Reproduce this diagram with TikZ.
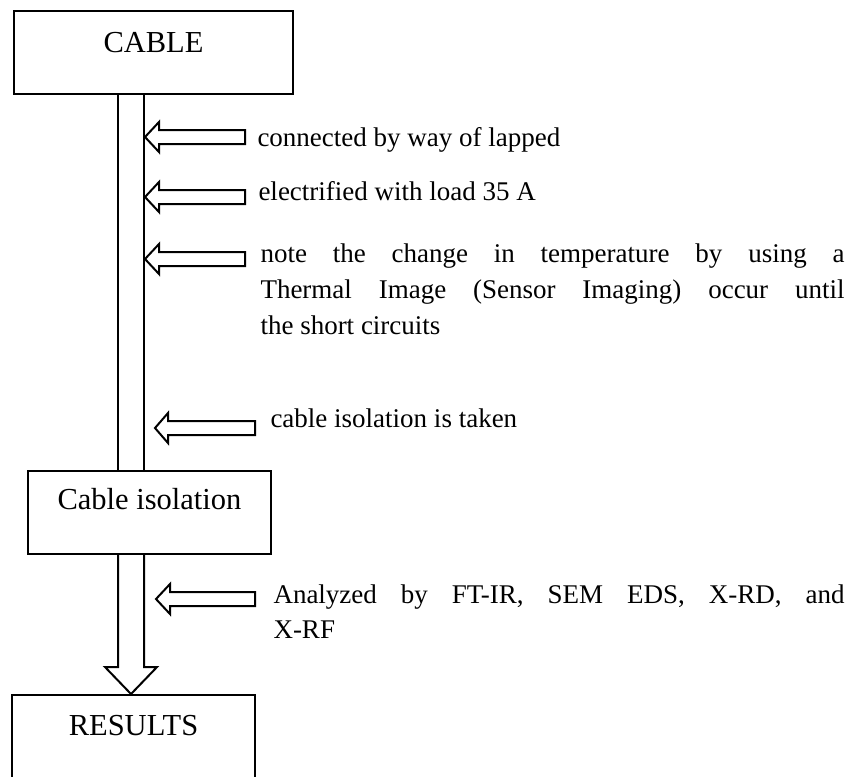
\documentclass[tikz,border=0pt]{standalone}
\usepackage{fontspec}
\setmainfont{Liberation Serif}
\newcommand\boxfnt{\fontsize{12.2pt}{14.6pt}\selectfont}
\newcommand\sidefnt{\fontsize{10.8pt}{14.4pt}\selectfont}
\newcommand\sidearw[4]{% tip x, y, head length, tail x
  \draw[arw] (#1,#2) -- ({#1+#3},{#2-15}) -- ({#1+#3},{#2-7}) -- (#4,{#2-7})
    -- (#4,{#2+7}) -- ({#1+#3},{#2+7}) -- ({#1+#3},{#2+15}) -- cycle;}
\begin{document}
\begin{tikzpicture}[x=0.4pt,y=-0.4pt,
  stepbox/.style={draw, line width=0.8pt, inner xsep=0pt, inner ysep=0pt, anchor=base, font=\boxfnt},
  arw/.style={draw, line width=0.8pt},
  shaft/.style={line width=0.8pt},
  sidetext/.style={anchor=base west, inner sep=0pt, font=\sidefnt}]
\useasboundingbox (0,0) rectangle (850,776);
\clip (0,0) rectangle (850,776);
% boxes
\node[stepbox, minimum width=111.6pt, text height=16.4pt, text depth=16.8pt] (cable) at (153.5,52) {CABLE};
\node[stepbox, minimum width=97.2pt, text height=15.2pt, text depth=18pt] (iso) at (149.5,509) {Cable isolation};
\node[stepbox, minimum width=97.2pt, text height=16pt, text depth=24pt] (res) at (133.5,735) {RESULTS};
% shafts
\coordinate (sl) at (118,0);
\coordinate (sr) at (144,0);
\coordinate (sm) at (131,0);
\draw[shaft] (cable.south -| sl) -- (iso.north -| sl);
\draw[shaft] (cable.south -| sr) -- (iso.north -| sr);
\coordinate (hl) at (118,667);
\coordinate (hr) at (144,667);
\draw[shaft] (iso.south -| sl) -- (hl) -- (105,667) -- (res.north -| sm) -- (157,667) -- (hr) -- (iso.south -| sr);
% side arrows
\sidearw{145}{137}{14}{245}
\sidearw{145}{197}{14}{245}
\sidearw{145}{259}{14}{245}
\sidearw{155}{428}{13}{255}
\sidearw{156}{599}{14}{255}
% side texts
\node[sidetext] (t1) at (257,146) {connected by way of lapped};
\node[sidetext] (t2) at (258,200) {electrified with load 35 A};
\node[sidetext] (t3) at (260,262) {\begin{tabular}[t]{@{}l@{}}\makebox[233.6pt][s]{note the change in temperature by using a}\\\makebox[233.6pt][s]{Thermal Image (Sensor Imaging) occur until}\\the short circuits\end{tabular}};
\node[sidetext] (t4) at (270,427) {cable isolation is taken};
\node[sidetext, font=\fontsize{10.8pt}{14pt}\selectfont] (t5) at (273,603) {\begin{tabular}[t]{@{}l@{}}\makebox[228.4pt][s]{Analyzed by FT-IR, SEM EDS, X-RD, and}\\X-RF\end{tabular}};
\end{tikzpicture}
\end{document}
